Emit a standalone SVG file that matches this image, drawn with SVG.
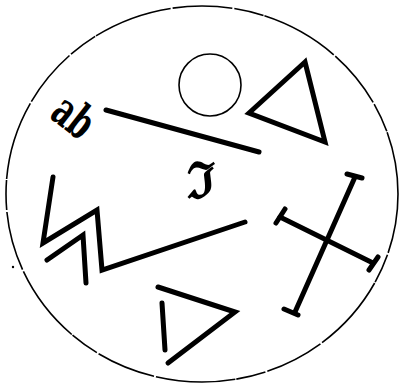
<svg xmlns="http://www.w3.org/2000/svg" width="403" height="385" viewBox="0 0 403 385">
<style>
.thin{fill:none;stroke:#000;stroke-width:1.6}
.thick{fill:none;stroke:#000;stroke-width:5;stroke-linecap:round;stroke-linejoin:miter}
.sym{font-family:"DejaVu Serif","Liberation Serif",serif;font-weight:bold;fill:#000}
</style>
<rect width="403" height="385" fill="#fff"/>
<g id="outer-circle"><ellipse class="thin" cx="202" cy="194" rx="196" ry="188" stroke-dasharray="60 2 30 1 80 2"/></g>
<g id="small-circle"><circle class="thin" cx="210" cy="85" r="31"/></g>
<g id="triangle-top"><polygon class="thick" points="305,62 249,113 325,142"/></g>
<g id="line-top"><line class="thick" x1="106" y1="110" x2="259" y2="152"/></g>
<g id="sym-ab"><text class="sym" font-size="33" text-anchor="middle" transform="translate(64,129) rotate(38) scale(0.9,1.4)">ab</text></g>
<g id="sym-g"><text class="sym" font-size="50" text-anchor="middle" x="201" y="198">ℑ</text></g>
<g id="zigzag">
<polyline class="thick" points="53,177 43,243 97,210 102,270 245,222"/>
<polyline class="thick" points="47,260 83,235 86,283"/>
</g>
<g id="cross">
<line class="thick" x1="355" y1="177" x2="295" y2="312"/>
<line class="thick" x1="280" y1="217" x2="373" y2="263"/>
<line class="thick" x1="347" y1="174" x2="362" y2="178"/>
<line class="thick" x1="284" y1="309" x2="298" y2="315"/>
<line class="thick" x1="276" y1="223" x2="285" y2="209"/>
<line class="thick" x1="369" y1="270" x2="378" y2="257"/>
</g>
<g id="triangle-bottom">
<polyline class="thick" points="158,287 235,312 168,363"/>
<line class="thick" x1="162" y1="303" x2="165" y2="350"/>
</g>
<circle cx="13" cy="267" r="1.2" fill="#000"/>
</svg>
